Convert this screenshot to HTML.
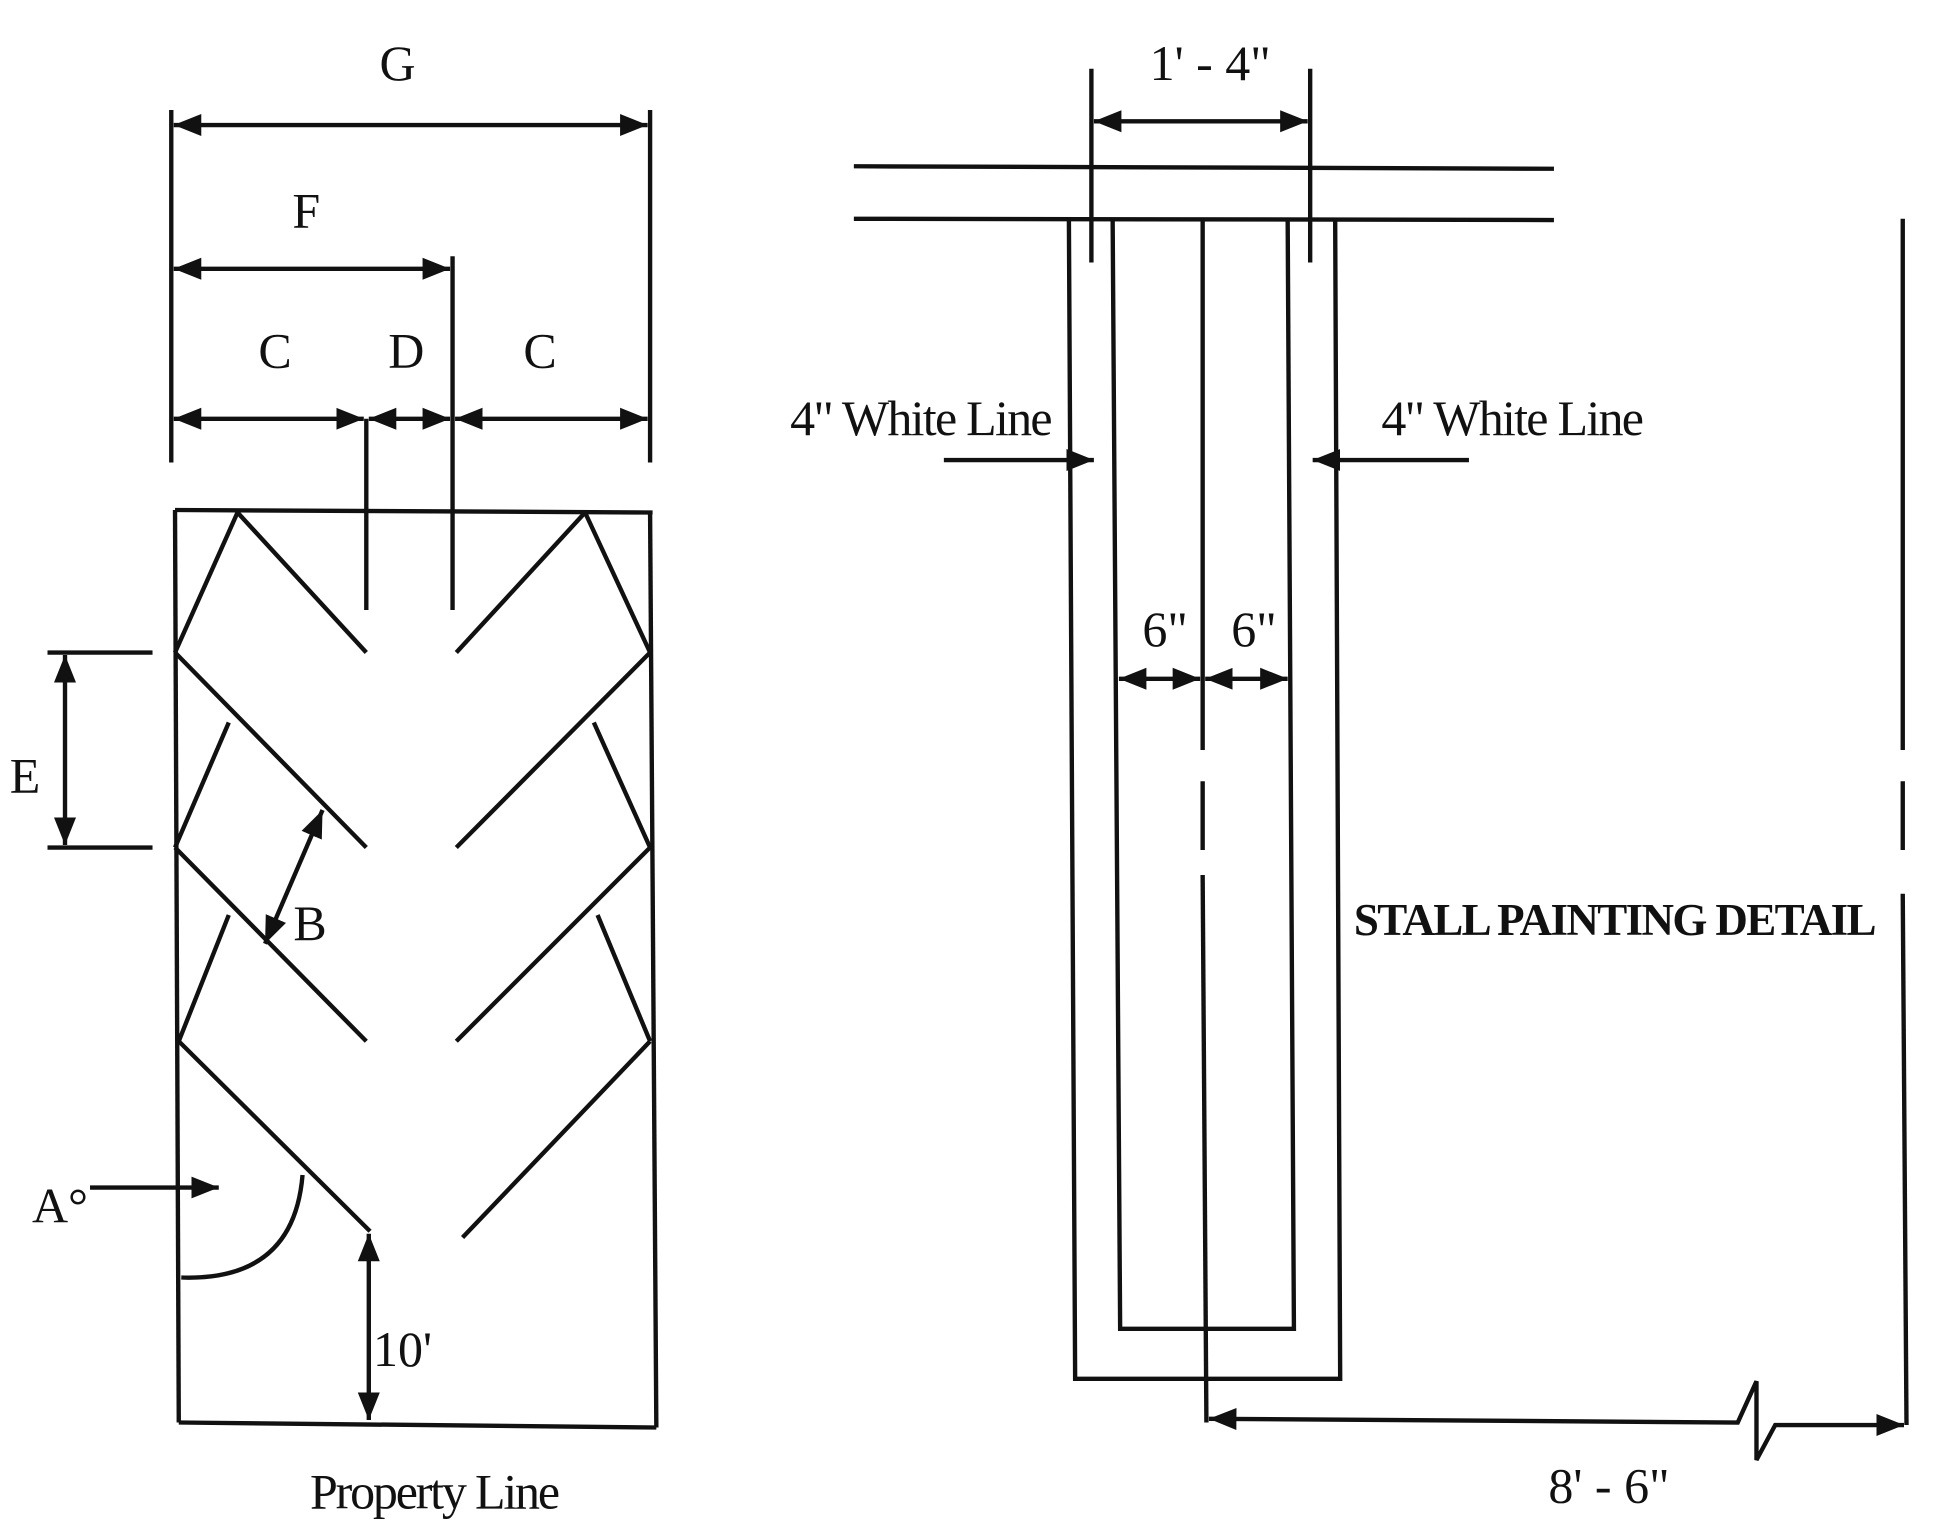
<!DOCTYPE html>
<html><head><meta charset="utf-8"><style>
html,body{margin:0;padding:0;background:#fff;}
svg{display:block;}
text{font-family:"Liberation Serif",serif;fill:#111;}
</style></head><body>
<svg width="1934" height="1540" viewBox="0 0 1547 1232" preserveAspectRatio="none" xmlns="http://www.w3.org/2000/svg">
<defs>
<marker id="b" viewBox="0 0 10 10" refX="10" refY="5" markerWidth="22" markerHeight="22" orient="auto-start-reverse" markerUnits="userSpaceOnUse">
<path d="M0,1 L10,5 L0,9 z" fill="#111"/></marker>
</defs>
<g stroke="#111" stroke-width="3.5" fill="none">
<line x1="137" y1="88" x2="137" y2="370"/>
<line x1="520" y1="88" x2="520" y2="370"/>
<line x1="139" y1="100" x2="518" y2="100" marker-start="url(#b)" marker-end="url(#b)"/>
<line x1="139" y1="215" x2="360" y2="215" marker-start="url(#b)" marker-end="url(#b)"/>
<line x1="362" y1="205" x2="362" y2="488"/>
<line x1="293" y1="335" x2="293" y2="488"/>
<line x1="139" y1="335" x2="291" y2="335" marker-start="url(#b)" marker-end="url(#b)"/>
<line x1="295" y1="335" x2="360" y2="335" marker-start="url(#b)" marker-end="url(#b)"/>
<line x1="364" y1="335" x2="518" y2="335" marker-start="url(#b)" marker-end="url(#b)"/>
<line x1="140" y1="408" x2="522" y2="410"/>
<line x1="140" y1="408" x2="143" y2="1138"/>
<line x1="520" y1="410" x2="525" y2="1142"/>
<line x1="143" y1="1138" x2="525" y2="1142"/>
<line x1="190" y1="410" x2="293" y2="522"/>
<line x1="140" y1="522" x2="190" y2="410"/>
<line x1="140" y1="522" x2="293" y2="678"/>
<line x1="140" y1="678" x2="183" y2="578"/>
<line x1="140" y1="678" x2="293" y2="833"/>
<line x1="143" y1="833" x2="183" y2="732"/>
<line x1="143" y1="833" x2="296" y2="985"/>
<line x1="468" y1="410" x2="365" y2="522"/>
<line x1="520" y1="522" x2="468" y2="410"/>
<line x1="520" y1="522" x2="365" y2="678"/>
<line x1="520" y1="678" x2="475" y2="578"/>
<line x1="520" y1="678" x2="365" y2="833"/>
<line x1="520" y1="833" x2="478" y2="732"/>
<line x1="520" y1="833" x2="370" y2="990"/>
<line x1="38" y1="522" x2="122" y2="522"/>
<line x1="38" y1="678" x2="122" y2="678"/>
<line x1="52" y1="524" x2="52" y2="676" marker-start="url(#b)" marker-end="url(#b)"/>
<line x1="212" y1="755" x2="258" y2="648" marker-start="url(#b)" marker-end="url(#b)"/>
<line x1="72" y1="950" x2="175" y2="950" marker-end="url(#b)"/>
<path d="M145,1022 Q235,1025 242,940"/>
<line x1="295" y1="987" x2="295" y2="1136" marker-start="url(#b)" marker-end="url(#b)"/>
<line x1="683" y1="133" x2="1243" y2="135"/>
<line x1="683" y1="175" x2="1243" y2="176"/>
<line x1="873" y1="55" x2="873" y2="210"/>
<line x1="1048" y1="55" x2="1048" y2="210"/>
<line x1="875" y1="97" x2="1046" y2="97" marker-start="url(#b)" marker-end="url(#b)"/>
<path d="M855,175 L860,1103 L1072,1103 L1068,175"/>
<path d="M890,175 L896,1063 L1035,1063 L1030,175"/>
<line x1="962" y1="175" x2="962" y2="600"/>
<line x1="962" y1="625" x2="962" y2="680"/>
<line x1="962" y1="700" x2="965" y2="1138"/>
<line x1="895" y1="543" x2="960" y2="543" marker-start="url(#b)" marker-end="url(#b)"/>
<line x1="964" y1="543" x2="1030" y2="543" marker-start="url(#b)" marker-end="url(#b)"/>
<line x1="755" y1="368" x2="875" y2="368" marker-end="url(#b)"/>
<line x1="1175" y1="368" x2="1050" y2="368" marker-end="url(#b)"/>
<line x1="1522" y1="175" x2="1522" y2="600"/>
<line x1="1522" y1="625" x2="1522" y2="680"/>
<line x1="1522" y1="715" x2="1525" y2="1140"/>
<path d="M967,1135 L1390,1138 L1405,1105 L1405,1168 L1420,1140 L1523,1140" marker-start="url(#b)" marker-end="url(#b)"/>
</g>
<g font-size="40">
<text x="318" y="64" text-anchor="middle">G</text>
<text x="245" y="182" text-anchor="middle">F</text>
<text x="220" y="294" text-anchor="middle">C</text>
<text x="325" y="294" text-anchor="middle">D</text>
<text x="432" y="294" text-anchor="middle">C</text>
<text x="20" y="634" text-anchor="middle">E</text>
<text x="248" y="752" text-anchor="middle">B</text>
<text x="48" y="978" text-anchor="middle">A°</text>
<text x="322" y="1093" text-anchor="middle">10'</text>
<text x="348" y="1207" text-anchor="middle" textLength="200">Property Line</text>
<text x="968" y="64" text-anchor="middle">1' - 4"</text>
<text x="737" y="348" text-anchor="middle" textLength="210">4" White Line</text>
<text x="1210" y="348" text-anchor="middle" textLength="210">4" White Line</text>
<text x="932" y="517" text-anchor="middle">6"</text>
<text x="1003" y="517" text-anchor="middle">6"</text>
<text x="1292" y="748" text-anchor="middle" font-weight="bold" font-size="36" textLength="418">STALL PAINTING DETAIL</text>
<text x="1287" y="1202" text-anchor="middle">8' - 6"</text>
</g>
</svg>
</body></html>
